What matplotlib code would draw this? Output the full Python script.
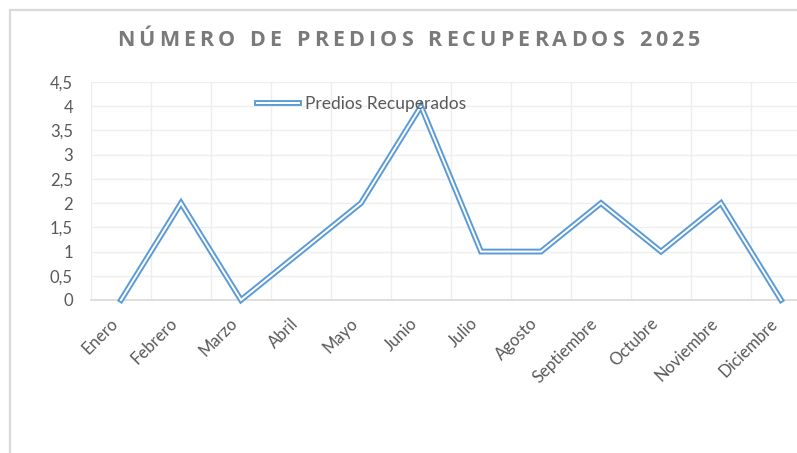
import matplotlib
matplotlib.use("Agg")
import matplotlib.pyplot as plt
from matplotlib.lines import Line2D
from matplotlib.legend_handler import HandlerTuple
from matplotlib.ticker import FixedLocator

# Data
meses = ["Enero", "Febrero", "Marzo", "Abril", "Mayo", "Junio", "Julio",
         "Agosto", "Septiembre", "Octubre", "Noviembre", "Diciembre"]
predios = [0, 2, 0, 1, 2, 4, 1, 1, 2, 1, 2, 0]
y_ticks = [0, 0.5, 1, 1.5, 2, 2.5, 3, 3.5, 4, 4.5]
y_labels = ["0", "0,5", "1", "1,5", "2", "2,5", "3", "3,5", "4", "4,5"]
titulo = "NÚMERO DE PREDIOS RECUPERADOS 2025"

W, H = 797, 453
plt.rcParams['font.family'] = ['Lato', 'DejaVu Sans']
fig = plt.figure(figsize=(W / 100, H / 100), dpi=100)

# plot area in pixels (extends past the right edge like the original)
x0, x1, yb, yt = 91, 811, 300, 82
ax = fig.add_axes([x0 / W, 1 - yb / H, (x1 - x0) / W, (yb - yt) / H])

blue = "#5B9BD5"
lw_out, lw_in = 4.2, 1.4
x = list(range(len(meses)))
outer, = ax.plot(x, predios, color=blue, lw=lw_out, solid_joinstyle='miter', zorder=3)
inner, = ax.plot(x, predios, color="white", lw=lw_in, solid_joinstyle='miter', zorder=4)
for l in (outer, inner):
    l.set_clip_on(False)

ax.set_xlim(-0.5, len(meses) - 0.5)
ax.set_ylim(0, 4.5)

ax.set_yticks(y_ticks)
ax.set_yticklabels(y_labels)
ax.set_xticks(x)
ax.set_xticklabels(meses, rotation=45, ha='right', va='top')
ax.xaxis.set_minor_locator(FixedLocator([i - 0.5 for i in range(len(meses) + 1)]))
ax.tick_params(axis='both', which='both', length=0, colors="#595959", labelsize=12)
ax.tick_params(axis='y', pad=13)
ax.tick_params(axis='x', pad=11)

ax.grid(True, axis='y', which='major', color="#EEEEEE", lw=1)
ax.grid(True, axis='x', which='minor', color="#EEEEEE", lw=1)
ax.set_axisbelow(True)
for s in ("top", "right", "left"):
    ax.spines[s].set_visible(False)
ax.spines["bottom"].set_color("#D9D9D9")
ax.spines["bottom"].set_linewidth(1.2)

# legend with double line handle
h_out = Line2D([], [], color=blue, lw=lw_out)
h_in = Line2D([], [], color="white", lw=lw_in)
fig.legend([(h_out, h_in)], ["Predios Recuperados"],
           handler_map={tuple: HandlerTuple(ndivide=1)},
           loc="center left", bbox_to_anchor=(252 / W, 1 - 104 / H),
           frameon=False, fontsize=12.5, handlelength=2.4, handletextpad=0.35,
           labelcolor="#595959", borderaxespad=0, borderpad=0.3)

# title with letter spacing, drawn char by char to span x=117..700
fig.canvas.draw()
r = fig.canvas.get_renderer()
ty = 1 - 40 / H
chars = []
widths = []
for ch in titulo:
    t = fig.text(0, ty, ch, fontsize=15.5, fontweight='bold', color="#7A7A7A",
                 ha='left', va='center', family=['Open Sans', 'DejaVu Sans'])
    chars.append(t)
    widths.append(7.0 if ch == " " else t.get_window_extent(r).width)
gap = (700 - 117 - sum(widths)) / (len(titulo) - 1)
tx = 117
for t, w in zip(chars, widths):
    t.set_x(tx / W)
    tx += w + gap

# outer chart frame (partially visible)
fig.add_artist(Line2D([10 / W, 1], [1 - 10 / H, 1 - 10 / H], color="#D9D9D9", lw=1.6))
fig.add_artist(Line2D([10 / W, 10 / W], [0, 1 - 10 / H], color="#D9D9D9", lw=1.6))

fig.savefig("out.png", dpi=100)
